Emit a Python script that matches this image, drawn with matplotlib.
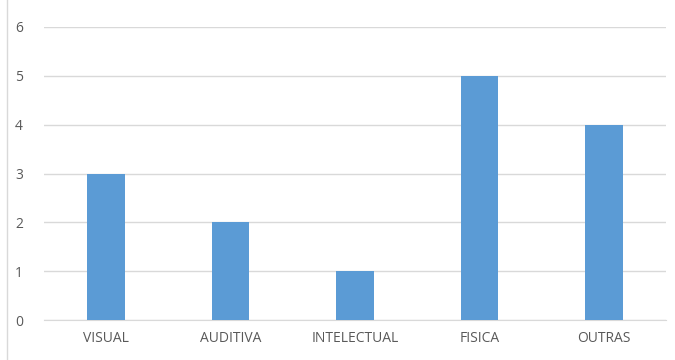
import matplotlib
matplotlib.use("Agg")
import matplotlib.pyplot as plt
from matplotlib.lines import Line2D

categories = ["VISUAL", "AUDITIVA", "INTELECTUAL", "FISICA", "OUTRAS"]
values = [3, 2, 1, 5, 4]
yticks = [0, 1, 2, 3, 4, 5, 6]

plt.rcParams['font.family'] = ['Open Sans', 'DejaVu Sans']

fig = plt.figure(figsize=(6.75, 3.6), dpi=100)
ax = fig.add_axes([0.065, 0.111, 0.922, 0.814])
x = range(len(categories))
ax.bar(x, values, width=0.3, color="#5B9BD5", zorder=3)
ax.set_xlim(-0.5, len(categories) - 0.5)
ax.set_ylim(0, 6)
ax.set_yticks(yticks)
ax.set_xticks(list(x))
ax.set_xticklabels(categories)
ax.grid(axis="y", color="#D9D9D9", linewidth=1, zorder=0)
for s in ["top", "right", "left"]:
    ax.spines[s].set_visible(False)
ax.spines["bottom"].set_color("#D9D9D9")
ax.tick_params(axis="both", length=0, labelsize=10, colors="#595959")
ax.tick_params(axis="x", pad=8)
ax.tick_params(axis="y", pad=15)
fig.add_artist(Line2D([0.011, 0.011], [0.0, 1.0], transform=fig.transFigure, color="#D9D9D9", linewidth=1))
fig.savefig("out.png", dpi=100)
